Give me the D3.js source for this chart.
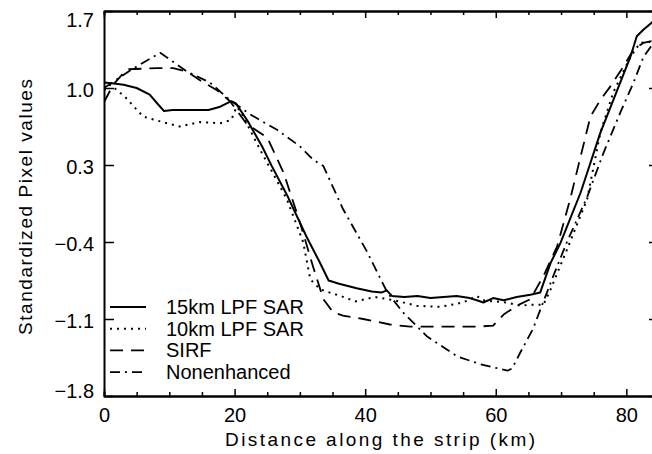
<!DOCTYPE html>
<html>
<head>
<meta charset="utf-8">
<script src="https://cdn.jsdelivr.net/npm/d3@7"></script>
<style>
  body { margin: 0; background: #fff; }
  text { font-family: "Liberation Sans", Arial, sans-serif; fill: #000; }
</style>
</head>
<body>
<div id="graph"></div>
<script>
// data (km along strip, standardized value)
var kmSolid  = [0, 1.5, 3, 5, 7, 8.3, 9.2, 10.5, 12, 14, 16, 17.8, 19.5, 20.2, 22, 24.2, 25.7, 28, 31, 33, 34.4, 36, 38.7, 41, 42.5, 43.3, 44.1, 46, 48, 50, 52, 54, 56, 57.1, 58.1, 59.6, 61.2, 63.2, 65.3, 66.8, 68.4, 69.9, 73, 76, 78, 80.6, 81.6, 82.6, 84, 85]
var valSolid = [1.05, 1.04, 1.03, 1.0, 0.94, 0.85, 0.79, 0.80, 0.80, 0.80, 0.80, 0.83, 0.88, 0.86, 0.70, 0.47, 0.29, 0.03, -0.35, -0.58, -0.75, -0.78, -0.82, -0.85, -0.86, -0.84, -0.89, -0.90, -0.89, -0.91, -0.90, -0.89, -0.91, -0.93, -0.95, -0.91, -0.93, -0.90, -0.88, -0.86, -0.59, -0.41, 0.05, 0.59, 0.89, 1.28, 1.47, 1.53, 1.6, 1.68]

var kmDot  = [0, 1, 3.2, 6, 9, 11.6, 14.7, 17.8, 19.5, 20.3, 21, 23.9, 28, 30.5, 31.6, 33.1, 34.6, 36.2, 38.5, 41.5, 44.5, 47.9, 51.5, 55, 57.1, 58, 61.7, 63.8, 65.3, 67.3, 68.4, 70.9, 74, 76, 78, 80.6, 82.1, 85]
var valDot = [0.98, 1.03, 0.92, 0.74, 0.69, 0.65, 0.69, 0.68, 0.71, 0.83, 0.78, 0.44, -0.01, -0.40, -0.74, -0.83, -0.86, -0.89, -0.94, -0.90, -0.93, -0.98, -0.99, -0.95, -0.89, -0.93, -0.95, -0.98, -0.97, -0.97, -0.83, -0.47, -0.01, 0.59, 0.96, 1.28, 1.41, 1.43]

var kmSirf  = [0, 1.4, 3.5, 8.1, 10.6, 12.7, 14.7, 17.3, 19.3, 21.9, 25, 27.5, 30, 32, 33.6, 35.1, 36.6, 39.7, 43.8, 46.9, 51.5, 57.1, 59.6, 61.2, 63.2, 65.3, 67.3, 69.4, 71.4, 73, 74.5, 76, 77.5, 79.5, 81.1, 82.6, 85]
var valSirf = [0.87, 1.03, 1.17, 1.18, 1.18, 1.15, 1.07, 0.98, 0.88, 0.67, 0.55, 0.23, -0.22, -0.62, -0.92, -1.04, -1.07, -1.10, -1.15, -1.17, -1.17, -1.17, -1.16, -1.06, -0.98, -0.92, -0.71, -0.44, -0.01, 0.38, 0.74, 0.89, 1.01, 1.19, 1.35, 1.41, 1.44]

var kmRaw  = [0, 4, 8.6, 12.7, 16.2, 19.3, 22.4, 26.5, 30, 32, 33.6, 36.6, 40.3, 43.4, 45.8, 49.5, 54.1, 57.6, 61.8, 62.5, 63.8, 65.7, 68.8, 70.9, 74, 76.5, 79.1, 81.1, 82.6, 85]
var valRaw = [1.0, 1.16, 1.32, 1.15, 1.05, 0.89, 0.76, 0.62, 0.47, 0.35, 0.29, -0.10, -0.49, -0.86, -1.04, -1.26, -1.44, -1.51, -1.57, -1.55, -1.40, -1.19, -0.71, -0.40, 0.01, 0.41, 0.78, 1.05, 1.28, 1.48]

var seriesNames = ["15km LPF SAR", "10km LPF SAR", "SIRF", "Nonenhanced"]
var yTicks = [1.7, 1.0, 0.3, -0.4, -1.1, -1.8]
var xTicks = [0, 20, 40, 60, 80]
var xMinor = [5, 10, 15, 25, 30, 35, 45, 50, 55, 65, 70, 75, 85]

var width = 652, height = 454
var margin = {top: 11, left: 104, bottom: 58, right: -7}

var svg = d3.select("#graph").append("svg")
            .attr("width", width).attr("height", height)

var x = d3.scaleLinear().domain([0, 85]).range([margin.left, width - margin.right])
var y = d3.scaleLinear().domain([-1.8, 1.7]).range([height - margin.bottom, margin.top])

var series = [
    {name: seriesNames[0], km: kmSolid, val: valSolid, dash: null,        w: 2},
    {name: seriesNames[1], km: kmDot,   val: valDot,   dash: "2,5",       w: 2},
    {name: seriesNames[2], km: kmSirf,  val: valSirf,  dash: "13,8",      w: 1.8},
    {name: seriesNames[3], km: kmRaw,   val: valRaw,   dash: "10,5,2,5",  w: 1.8}
]

svg.append("defs").append("clipPath").attr("id", "clip")
   .append("rect")
   .attr("x", x(0)).attr("y", y(1.7))
   .attr("width", x(85) - x(0)).attr("height", y(-1.8) - y(1.7))

var line = d3.line()
             .x(function(d) { return x(d[0]) })
             .y(function(d) { return y(d[1]) })

svg.append("g").attr("clip-path", "url(#clip)")
   .selectAll("path")
   .data(series)
   .enter()
   .append("path")
   .attr("d", function(s) { return line(d3.zip(s.km, s.val)) })
   .attr("fill", "none")
   .attr("stroke", "#000")
   .attr("stroke-width", function(s) { return s.w })
   .attr("stroke-dasharray", function(s) { return s.dash })
   .attr("stroke-linejoin", "round")

// axes, ticks pointing inward like the original
var fmt = function(d) { return d3.format(".1f")(d).replace("-", "\u2212") }

var axBottom = svg.append("g").attr("transform", "translate(0," + y(-1.8) + ")")
axBottom.call(d3.axisBottom(x).tickValues(xTicks).tickSize(-7).tickSizeOuter(0).tickPadding(12).tickFormat(d3.format("d")))
axBottom.append("g").call(d3.axisBottom(x).tickValues(xMinor).tickSize(-4).tickFormat(""))

var axTop = svg.append("g").attr("transform", "translate(0," + y(1.7) + ")")
axTop.call(d3.axisTop(x).tickValues(xTicks).tickSize(-7).tickSizeOuter(0).tickFormat(""))
axTop.append("g").call(d3.axisTop(x).tickValues(xMinor).tickSize(-4).tickFormat(""))

var axLeft = svg.append("g").attr("transform", "translate(" + x(0) + ",0)")
axLeft.call(d3.axisLeft(y).tickValues(yTicks).tickSize(-10).tickSizeOuter(0).tickPadding(10).tickFormat(fmt))

var axRight = svg.append("g").attr("transform", "translate(" + x(85) + ",0)")
axRight.call(d3.axisRight(y).tickValues(yTicks).tickSize(-10).tickSizeOuter(0).tickFormat(""))

svg.selectAll(".domain").attr("stroke-width", 2)
svg.selectAll(".tick line").attr("stroke-width", 1.5)
svg.selectAll(".tick text").style("font-size", "20px").attr("fill", "#000")
             .style("font-family", "'Liberation Sans', Arial, sans-serif")

// end labels sit inside the frame
axLeft.selectAll(".tick text").attr("dy", function(d) {
    if (d === 1.7) return "0.78em"
    if (d === -1.8) return "0.05em"
    return "0.4em"
})

svg.append("text")
   .attr("x", 380).attr("y", 446)
   .attr("text-anchor", "middle")
   .attr("textLength", 310).attr("lengthAdjust", "spacing")
   .style("font-size", "19px")
   .text("Distance along the strip (km)")

svg.append("text")
   .attr("transform", "translate(32,207) rotate(-90)")
   .attr("text-anchor", "middle")
   .attr("textLength", 256).attr("lengthAdjust", "spacing")
   .style("font-size", "19px")
   .text("Standardized Pixel values")

// legend
var legend = svg.append("g").attr("transform", "translate(110,307)")
var item = legend.selectAll("g").data(series).enter().append("g")
                 .attr("transform", function(d, i) { return "translate(0," + (i * 21.7) + ")" })
item.append("line")
    .attr("x1", 0).attr("x2", 36).attr("y1", 0).attr("y2", 0)
    .attr("stroke", "#000")
    .attr("stroke-width", function(s) { return s.w })
    .attr("stroke-dasharray", function(s) { return s.dash })
item.append("text")
    .attr("x", 56).attr("y", 7)
    .style("font-size", "20px")
    .text(function(s) { return s.name })
</script>
</body>
</html>
